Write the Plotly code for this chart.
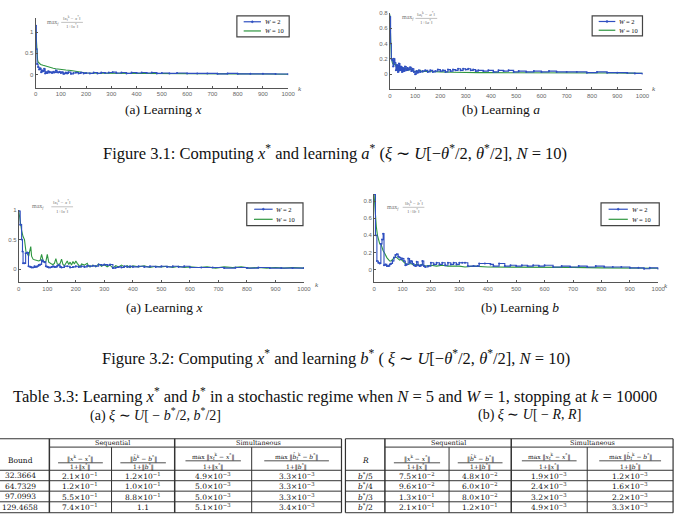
import plotly.graph_objects as go

# ---------------- data ----------------
ticks_k = [0, 100, 200, 300, 400, 500, 600, 700, 800, 900, 1000]

# Figure 3.1 (a) Learning x
f31a_w2 = [(0,1.15),(3,0.6),(6,0.25),(10,0.18),(14,0.12),(18,0.15),(22,0.06),(26,0.1),(30,0.08),(34,0.14),
           (38,0.03),(42,0.06),(46,0.04),(50,0.08),(55,0.05),(60,0.06),(65,0.04),(70,0.07),(75,0.05),(80,0.1),
           (85,0.06),(90,0.05),(95,0.07),(100,0.04),(105,0.06),(110,0.02),(115,0.03),(120,0.05),(125,0.03),
           (130,0.06),(140,0.02),(150,0.04),(160,0.05),(170,0.03),(180,0.05),(190,0.03),(200,0.04),(215,0.03),
           (230,0.05),(245,0.03),(260,0.05),(275,0.04),(290,0.05),(305,0.06),(320,0.04),(340,0.05),(360,0.03),
           (380,0.05),(400,0.04),(420,0.05),(440,0.04),(460,0.05),(480,0.03),(500,0.04),(530,0.03),(560,0.04),
           (600,0.03),(640,0.03),(680,0.03),(720,0.02),(760,0.03),(800,0.02),(850,0.02),(900,0.02),(950,0.015),
           (1000,0.01)]
f31a_w10 = [(0,1.15),(2,0.85),(4,0.6),(6,0.45),(8,0.35),(10,0.3),(15,0.27),(20,0.24),(30,0.22),(40,0.2),
            (50,0.18),(60,0.16),(70,0.15),(80,0.14),(90,0.13),(100,0.12),(120,0.11),(140,0.1),(160,0.08),
            (170,0.06),(180,0.05),(190,0.04),(200,0.04),(250,0.035),(300,0.035),(350,0.03),(400,0.03),
            (450,0.03),(500,0.025),(600,0.025),(700,0.02),(800,0.02),(900,0.015),(1000,0.01)]

# Figure 3.1 (b) Learning a
f31b_w2 = [(0,0.75),(3,0.4),(6,0.2),(10,0.18),(13,0.1),(16,0.2),(20,0.15),(24,0.05),(28,0.12),(32,0.03),
           (36,0.14),(40,0.05),(44,0.1),(48,0.03),(52,0.08),(56,0.04),(60,0.1),(65,0.05),(70,0.08),(75,0.06),
           (80,0.09),(85,0.04),(90,0.07),(95,0.03),(100,0.0),(105,0.04),(110,0.02),(115,0.05),(120,0.03),
           (130,0.04),(140,0.05),(150,0.03),(160,0.05),(170,0.03),(180,0.04),(190,0.06),(200,0.04),(210,0.05),
           (220,0.03),(230,0.06),(240,0.04),(250,0.06),(260,0.05),(270,0.07),(280,0.05),(290,0.07),(300,0.06),
           (310,0.07),(320,0.05),(330,0.06),(340,0.04),(350,0.05),(370,0.04),(390,0.05),(410,0.03),(430,0.05),
           (450,0.04),(470,0.05),(490,0.03),(510,0.04),(540,0.03),(570,0.04),(600,0.03),(630,0.04),(660,0.03),
           (700,0.03),(740,0.03),(780,0.02),(820,0.03),(860,0.02),(900,0.02),(940,0.015),(970,0.01),(1000,0.005)]
f31b_w10 = [(0,0.78),(3,0.4),(6,0.22),(10,0.15),(15,0.12),(20,0.14),(25,0.1),(30,0.12),(35,0.07),(40,0.1),
            (45,0.06),(50,0.09),(55,0.05),(60,0.08),(65,0.06),(70,0.08),(75,0.05),(80,0.07),(90,0.05),
            (100,0.03),(110,0.04),(120,0.05),(130,0.03),(140,0.04),(160,0.035),(180,0.03),(200,0.03),
            (250,0.025),(300,0.02),(350,0.02),(400,0.02),(500,0.02),(600,0.02),(700,0.02),(800,0.02),
            (900,0.015),(1000,0.01)]

# Figure 3.2 (a) Learning x
f32a_w2 = [(0,0.98),(5,0.75),(10,0.5),(13,0.3),(15,0.1),(20,0.1),(24,0.27),(30,0.28),(34,0.05),(40,0.04),
           (45,0.03),(50,0.03),(55,0.05),(60,0.04),(65,0.05),(70,0.07),(75,0.08),(80,0.15),(85,0.13),(90,0.12),
           (95,0.05),(100,0.04),(105,0.03),(110,0.03),(115,0.04),(120,0.05),(125,0.04),(130,0.04),(135,0.06),
           (140,0.07),(145,0.04),(150,0.03),(160,0.05),(170,0.05),(180,0.03),(190,0.04),(200,0.05),(210,0.04),
           (220,0.05),(230,0.04),(240,0.06),(250,0.05),(260,0.06),(270,0.05),(280,0.08),(290,0.07),(300,0.08),
           (310,0.07),(320,0.08),(330,0.02),(340,0.03),(350,0.04),(360,0.03),(370,0.05),(380,0.04),(390,0.05),
           (400,0.04),(420,0.05),(440,0.04),(460,0.05),(480,0.04),(500,0.05),(520,0.04),(540,0.05),(560,0.04),
           (580,0.05),(600,0.03),(640,0.03),(680,0.03),(720,0.02),(760,0.03),(800,0.02),(840,0.03),(880,0.02),
           (920,0.02),(960,0.02),(1000,0.02)]
f32a_w10 = [(0,0.98),(5,0.8),(10,0.65),(15,0.55),(20,0.5),(25,0.3),(30,0.26),(35,0.22),(38,0.3),(42,0.38),
            (45,0.22),(50,0.17),(55,0.16),(60,0.15),(65,0.14),(70,0.14),(75,0.15),(80,0.25),(85,0.15),(90,0.12),
            (95,0.13),(100,0.25),(105,0.12),(110,0.1),(115,0.09),(120,0.08),(125,0.1),(130,0.18),(135,0.09),
            (140,0.08),(145,0.1),(150,0.17),(155,0.08),(160,0.06),(165,0.1),(170,0.14),(175,0.08),(180,0.12),
            (185,0.07),(190,0.13),(195,0.09),(200,0.14),(205,0.1),(210,0.06),(215,0.04),(220,0.09),(230,0.07),
            (240,0.1),(245,0.05),(250,0.04),(260,0.07),(270,0.04),(280,0.09),(290,0.05),(300,0.08),(310,0.04),
            (320,0.07),(330,0.02),(340,0.06),(350,0.04),(360,0.07),(370,0.04),(380,0.06),(390,0.03),(400,0.06),
            (420,0.04),(440,0.06),(460,0.03),(480,0.05),(500,0.04),(520,0.05),(540,0.03),(560,0.05),(580,0.03),
            (600,0.04),(630,0.03),(660,0.04),(690,0.02),(720,0.04),(750,0.03),(780,0.04),(810,0.02),(840,0.03),
            (870,0.02),(900,0.03),(930,0.02),(960,0.03),(1000,0.02)]

# Figure 3.2 (b) Learning b
f32b_w2 = [(0,0.88),(5,0.4),(10,0.1),(15,0.08),(20,0.07),(24,0.3),(28,0.35),(32,0.42),(35,0.05),(40,0.06),
           (45,0.04),(50,0.04),(55,0.06),(60,0.07),(65,0.1),(70,0.14),(75,0.17),(80,0.18),(85,0.15),(90,0.14),
           (95,0.12),(100,0.13),(105,0.1),(110,0.05),(115,0.06),(120,0.13),(125,0.08),(130,0.1),(135,0.07),
           (140,0.05),(145,0.04),(150,0.09),(155,0.05),(160,0.04),(165,0.05),(170,0.1),(175,0.04),(180,0.03),
           (190,0.04),(200,0.08),(210,0.06),(220,0.08),(230,0.06),(240,0.08),(250,0.05),(260,0.08),(270,0.06),
           (280,0.08),(290,0.06),(300,0.08),(310,0.08),(320,0.08),(330,0.04),(350,0.04),(365,0.04),(370,0.07),
           (390,0.07),(410,0.06),(420,0.04),(440,0.07),(460,0.04),(480,0.05),(500,0.04),(520,0.05),(540,0.04),
           (560,0.05),(580,0.04),(600,0.05),(630,0.03),(660,0.04),(690,0.03),(720,0.04),(750,0.03),(780,0.04),
           (810,0.03),(840,0.03),(870,0.03),(900,0.02),(930,0.02),(950,0.01),(970,0.02),(1000,0.01)]
f32b_w10 = [(0,0.88),(4,0.65),(8,0.5),(12,0.4),(16,0.33),(20,0.3),(24,0.3),(28,0.25),(32,0.22),(36,0.2),
            (40,0.17),(45,0.14),(50,0.12),(55,0.1),(60,0.1),(65,0.12),(70,0.13),(75,0.15),(80,0.14),(85,0.12),
            (90,0.11),(95,0.12),(100,0.1),(110,0.07),(120,0.06),(130,0.07),(140,0.05),(150,0.06),(160,0.05),
            (170,0.06),(180,0.04),(200,0.05),(220,0.04),(240,0.05),(260,0.04),(280,0.04),(300,0.04),(320,0.03),
            (350,0.04),(400,0.03),(450,0.03),(500,0.03),(600,0.03),(700,0.025),(800,0.02),(900,0.02),
            (950,0.02),(1000,0.015)]

legend_labels = ["<i>W</i> = 2", "<i>W</i> = 10"]

# Table 3.3 (a)
tab_a_bound = ["32.3664", "64.7329", "97.0993", "129.4658"]
tab_a_seq_x = [(2.1, -1), (1.2, -1), (5.5, -1), (7.4, -1)]
tab_a_seq_b = [(1.2, -1), (1.0, -1), (8.8, -1), (1.1, 0)]
tab_a_sim_x = [(4.9, -3), (5.0, -3), (5.0, -3), (5.1, -3)]
tab_a_sim_b = [(3.3, -3), (3.3, -3), (3.3, -3), (3.4, -3)]
# Table 3.3 (b)
tab_b_R = ["<i>b</i><sup>*</sup>/5", "<i>b</i><sup>*</sup>/4", "<i>b</i><sup>*</sup>/3", "<i>b</i><sup>*</sup>/2"]
tab_b_seq_x = [(7.5, -2), (9.6, -2), (1.3, -1), (2.1, -1)]
tab_b_seq_b = [(4.8, -2), (6.0, -2), (8.0, -2), (1.2, -1)]
tab_b_sim_x = [(1.9, -3), (2.4, -3), (3.2, -3), (4.9, -3)]
tab_b_sim_b = [(1.2, -3), (1.6, -3), (2.2, -3), (3.3, -3)]

# ---------------- layout helpers ----------------
W, H = 686, 516
def X(px): return px / W
def Y(py): return 1 - py / H

BLUE = "#2f4fc0"
GREEN = "#2e9640"
SERIF = "Liberation Serif"
TSERIF = "DejaVu Serif"

fig = go.Figure()
annotations = []
shapes = []

def text(px, py, s, size=12, color="#111", xanchor="center", family=SERIF):
    annotations.append(dict(x=X(px), y=Y(py), xref="paper", yref="paper", text=s, showarrow=False,
                            xanchor=xanchor, yanchor="middle", borderpad=0,
                            font=dict(size=size, color=color, family=family)))

def hline(x0, x1, py, color="#333", width=1):
    shapes.append(dict(type="line", xref="paper", yref="paper", x0=X(x0), x1=X(x1), y0=Y(py), y1=Y(py),
                       line=dict(color=color, width=width)))

def vline(px, y0, y1, color="#333", width=1):
    shapes.append(dict(type="line", xref="paper", yref="paper", x0=X(px), x1=X(px), y0=Y(y0), y1=Y(y1),
                       line=dict(color=color, width=width)))

def fmt(m):
    mant, ex = m
    if ex == 0:
        return f"{mant:.1f}"
    return f"{mant:.1f}×10<sup>−{abs(ex)}</sup>"

panels = [
    dict(w2=f31a_w2, w10=f31a_w10, xd=(34, 290), yd=(15, 85), yr=(-0.3, 1.33),
         yt=[0, 0.5, 1], yl=["0", "0.5", "1"], leg=(238, 13, 291, 34),
         lab=(45, 20, 71, 15.5, 19.5, 23.5, "x"), klab=(302, 87)),
    dict(w2=f31b_w2, w10=f31b_w10, xd=(393, 649), yd=(10, 87), yr=(-0.2, 0.8),
         yt=[0, 0.2, 0.4, 0.6, 0.8], yl=["0", "0.2", "0.4", "0.6", "0.8"], leg=(598, 13, 649, 33),
         lab=(404, 15, 430, 11.5, 15.5, 19.5, "a"), klab=(661, 87)),
    dict(w2=f32a_w2, w10=f32a_w10, xd=(17, 306), yd=(208, 281), yr=(-0.22, 1.0),
         yt=[0, 0.5, 1], yl=["0", "0.5", "1"], leg=(248, 201, 305, 224),
         lab=(29, 205, 61, 201, 205, 209, "x"), klab=(319, 284)),
    dict(w2=f32b_w2, w10=f32b_w10, xd=(377, 665), yd=(192, 281), yr=(-0.15, 0.885),
         yt=[0, 0.2, 0.4, 0.6, 0.8], yl=["0", "0.2", "0.4", "0.6", "0.8"], leg=(607, 201, 666, 224),
         lab=(389, 206, 417, 202, 205.5, 209.5, "b"), klab=(673, 285)),
]

layout_axes = {}
for i, p in enumerate(panels, start=1):
    sx = "" if i == 1 else str(i)
    xa, ya = "x" + sx, "y" + sx
    kb, vb = zip(*p["w2"])
    kg, vg = zip(*p["w10"])
    fig.add_trace(go.Scatter(x=list(kg), y=list(vg), xaxis=xa, yaxis=ya, mode="lines",
                             line=dict(color=GREEN, width=1.1), showlegend=False, hoverinfo="skip"))
    fig.add_trace(go.Scatter(x=list(kb), y=list(vb), xaxis=xa, yaxis=ya, mode="lines+markers",
                             line=dict(color=BLUE, width=1.1, shape="hv"), marker=dict(size=2, color=BLUE),
                             showlegend=False, hoverinfo="skip"))
    axcommon = dict(showgrid=False, zeroline=False, showline=True, linecolor="#555", linewidth=1,
                    ticks="inside", ticklen=2, tickcolor="#555",
                    tickfont=dict(size=6, color="#666", family="Liberation Sans"))
    layout_axes["xaxis" + sx] = dict(domain=[X(p["xd"][0]), X(p["xd"][1])], range=[0, 1000], anchor=ya,
                                     tickvals=ticks_k, ticktext=[str(t) for t in ticks_k], **axcommon)
    layout_axes["yaxis" + sx] = dict(domain=[Y(p["yd"][1]), Y(p["yd"][0])], range=list(p["yr"]), anchor=xa,
                                     tickvals=p["yt"], ticktext=p["yl"], **axcommon)
    # legend box
    x0, y0, x1, y1 = p["leg"]
    shapes.append(dict(type="rect", xref="paper", yref="paper", x0=X(x0), x1=X(x1), y0=Y(y1), y1=Y(y0),
                       line=dict(color="#444", width=1.2), fillcolor="white"))
    w = x1 - x0
    h = y1 - y0
    ya_, yb_ = y0 + h * 0.28, y0 + h * 0.72
    hline(x0 + w * 0.13, x0 + w * 0.46, ya_, BLUE, 1.2)
    hline(x0 + w * 0.13, x0 + w * 0.46, yb_, GREEN, 1.2)
    shapes.append(dict(type="circle", xref="paper", yref="paper",
                       x0=X(x0 + w * 0.295 - 1), x1=X(x0 + w * 0.295 + 1), y0=Y(ya_ + 1), y1=Y(ya_ - 1),
                       fillcolor=BLUE, line=dict(color=BLUE, width=0.5)))
    text(x0 + w * 0.51, ya_, legend_labels[0], size=6.5, xanchor="left")
    text(x0 + w * 0.51, yb_, legend_labels[1], size=6.5, xanchor="left")
    # y label: max_f fraction
    mx, my, fx, ny, ly, dy, v = p["lab"]
    text(mx, my, "max<sub><i>f</i></sub>", size=6, color="#777", xanchor="left")
    text(fx, ny, f"‖<i>{v}</i><sub>f</sub><sup>k</sup> − <i>{v}</i><sup>*</sup>‖", size=5, color="#777")
    hline(fx - 11, fx + 11, ly, "#999", 0.6)
    text(fx, dy, f"1+‖<i>{v}</i><sup>*</sup>‖", size=5, color="#777")
    # k label
    text(p["klab"][0], p["klab"][1], "<i>k</i>", size=7, color="#555")

# captions
text(163, 107, "(a) Learning <i>x</i>", size=13.5)
text(506, 107, "(b) Learning <i>a</i>", size=13.5)
text(337, 150, "Figure 3.1: Computing <i>x</i><sup>*</sup> and learning <i>a</i><sup>*</sup> "
               "(<i>ξ</i> ∼ <i>U</i>[−<i>θ</i><sup>*</sup>/2, <i>θ</i><sup>*</sup>/2], <i>N</i> = 10)", size=16.5)
text(164, 306, "(a) Learning <i>x</i>", size=13.5)
text(525, 306, "(b) Learning <i>b</i>", size=13.5)
text(338, 357, "Figure 3.2: Computing <i>x</i><sup>*</sup> and learning <i>b</i><sup>*</sup> "
               "( <i>ξ</i> ∼ <i>U</i>[−<i>θ</i><sup>*</sup>/2, <i>θ</i><sup>*</sup>/2], <i>N</i> = 10)", size=16.5)

# table title
text(337, 395, "Table 3.3: Learning <i>x</i><sup>*</sup> and <i>b</i><sup>*</sup> in a stochastic regime when "
               "<i>N</i> = 5 and <i>W</i> = 1, stopping at <i>k</i> = 10000", size=16.5)
text(156, 414, "(a) <i>ξ</i> ∼ <i>U</i>[ − <i>b</i><sup>*</sup>/2, <i>b</i><sup>*</sup>/2]", size=14)
text(535, 414, "(b) <i>ξ</i> ∼ <i>U</i>[ − <i>R</i>, <i>R</i>]", size=14)

row_lines = [470, 480.5, 491, 501.7, 512.7]
top, h1 = 438.3, 446.7

def draw_table(cols, first_head, first_col, cx, cb, sx, sb):
    left, c1, c2, c3, c4, right = cols
    hline(left, right, top)
    hline(c1, right, h1)
    for ry in row_lines:
        hline(left, right, ry)
    vline(left, top, row_lines[-1], width=1.2)
    vline(c1, top, row_lines[-1], width=1.5)
    vline(c2, h1, row_lines[-1])
    vline(c3, top, row_lines[-1], width=1.5)
    vline(c4, h1, row_lines[-1])
    vline(right, top, row_lines[-1], width=1.2)
    hs = 6.5
    text((c1 + c3) / 2, (top + h1) / 2 + 0.3, "Sequential", size=hs, family=TSERIF)
    text((c3 + right) / 2, (top + h1) / 2 + 0.3, "Simultaneous", size=hs, family=TSERIF)
    text((left + c1) / 2, 460.5, first_head, size=7.5, family=TSERIF)
    heads = [
        ("‖<i>x</i><sup>k</sup> − <i>x</i><sup>*</sup>‖", "1+‖<i>x</i><sup>*</sup>‖", c1, c2, 458.5, 462.5),
        ("‖<i>b̂</i><sup>k</sup> − <i>b</i><sup>*</sup>‖", "1+‖<i>b</i><sup>*</sup>‖", c2, c3, 458.5, 462.5),
        ("max ‖<i>x</i><sub>f</sub><sup>k</sup> − <i>x</i><sup>*</sup>‖", "1+‖<i>x</i><sup>*</sup>‖", c3, c4, 456, 460.5),
        ("max ‖<i>b̂</i><sub>f</sub><sup>k</sup> − <i>b</i><sup>*</sup>‖", "1+‖<i>b</i><sup>*</sup>‖", c4, right, 456, 460.5),
    ]
    for num, den, a, b, ny, ly in heads:
        m = (a + b) / 2
        half = (b - a) * 0.36
        text(m, ny, num, size=6, family=TSERIF)
        hline(m - half, m + half, ly, "#222", 0.8)
        text(m, 466, den, size=6, family=TSERIF)
    for r in range(4):
        yc = (row_lines[r] + row_lines[r + 1]) / 2 + 0.2
        text((left + c1) / 2, yc, first_col[r], size=7.5, family=TSERIF)
        text((c1 + c2) / 2, yc, fmt(cx[r]), size=7.5, family=TSERIF)
        text((c2 + c3) / 2, yc, fmt(cb[r]), size=7.5, family=TSERIF)
        text((c3 + c4) / 2, yc, fmt(sx[r]), size=7.5, family=TSERIF)
        text((c4 + right) / 2, yc, fmt(sb[r]), size=7.5, family=TSERIF)

draw_table((-11, 48, 111, 175, 253, 344), "Bound", tab_a_bound,
           tab_a_seq_x, tab_a_seq_b, tab_a_sim_x, tab_a_sim_b)
draw_table((348, 388, 453, 516, 593, 680), "<i>R</i>", tab_b_R,
           tab_b_seq_x, tab_b_seq_b, tab_b_sim_x, tab_b_sim_b)

fig.update_layout(width=W, height=H, margin=dict(l=0, r=0, t=0, b=0, pad=0),
                  paper_bgcolor="white", plot_bgcolor="white", showlegend=False,
                  font=dict(family=SERIF), annotations=annotations, shapes=shapes, **layout_axes)
fig.write_html("out.html")
